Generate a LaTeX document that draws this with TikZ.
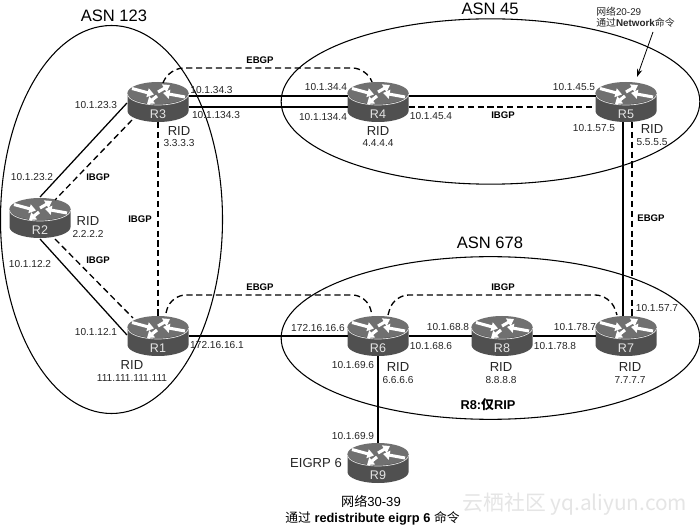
\documentclass[tikz,border=0pt]{standalone}
\usepackage{fontspec}
\setmainfont{Liberation Sans}
\newfontfamily\cjk{Noto Sans CJK SC}
\usetikzlibrary{calc,arrows.meta,shapes.geometric}
\definecolor{routertop}{HTML}{707070}
\definecolor{routerbody}{HTML}{505050}
\definecolor{routerrim}{HTML}{E4E4E4}
\definecolor{inktext}{HTML}{262626}
\tikzset{
  x=0.75pt,y=-0.75pt,
  asnarea/.style={ellipse,draw=black,line width=0.8pt,inner sep=0pt,outer sep=0pt},
  routerbox/.style={rectangle,inner sep=0pt,outer sep=0pt,minimum width=45.75pt,minimum height=30pt},
  routertag/.style={text=routerrim,font=\fontsize{9.4}{9.4}\selectfont,inner sep=0pt},
  flow/.style={white,line width=2.3pt,-{Triangle[width=6.6pt,length=5pt]}},
  solidlink/.style={draw=black,line width=0.95pt},
  bgplink/.style={draw=black,line width=1pt,dash pattern=on 4.6pt off 2.8pt},
  curvedlink/.style={bgplink,rounded corners=11pt},
  ip/.style={text=inktext,font=\fontsize{7.6}{8}\selectfont,inner sep=0pt},
  rid/.style={text=inktext,font=\fontsize{9.8}{10}\selectfont,inner sep=0pt},
  asn/.style={text=black,font=\fontsize{12.4}{13}\selectfont,inner sep=0pt},
  bgptag/.style={text=black,font=\bfseries\fontsize{7.2}{8}\selectfont,inner sep=0pt},
  note/.style={text=inktext,font=\fontsize{7.4}{9}\selectfont,inner sep=0pt},
  bignote/.style={text=black,font=\fontsize{9.8}{11}\selectfont,inner sep=0pt},
}
% Router icon: named box, barrel body, lit top face and four white traffic arrows
\newcommand{\routericon}[3]{%
  \node[routerbox] (#1) at (#2,#3) {};
  \begin{scope}[shift={(#2,#3)}]
    \fill[routerbody] (-30.5,-9) -- (-30.5,9) arc[start angle=180,end angle=360,x radius=22.9pt,y radius=8.25pt] -- (30.5,-9) -- cycle;
    \fill[routertop] (0,-9) ellipse [x radius=22.9pt,y radius=8.25pt];
    \draw[routerrim,line width=0.5pt] (-30.5,-8) arc[start angle=180,end angle=360,x radius=22.9pt,y radius=8.25pt];
    \draw[flow] (-26,-13.5) -- (-4,-7.5);
    \draw[flow] (0,-10) -- (12,-17);
    \draw[flow] (-1,-6) -- (-11,2);
    \draw[flow] (27,-5) -- (5,-9);
    \node[routertag] (#1tag) at (0,12) {#1};
  \end{scope}}
\begin{document}
\begin{tikzpicture}
\useasboundingbox (0,0) rectangle (700,527);
\fill[white] (0,0) rectangle (700,527);

% Autonomous system boundaries
\node[asnarea,minimum width=166.5pt,minimum height=291pt] (asnA) at (111.5,219.5) {};
\node[asnarea,minimum width=314pt,minimum height=124pt] (asnB) at (490.5,101.5) {};
\node[asnarea,minimum width=314pt,minimum height=122pt] (asnC) at (490.5,338) {};
\node[asn] (asnAname) at (114,16) {ASN 123};
\node[asn] (asnBname) at (490,9) {ASN 45};
\node[asn] (asnCname) at (490,243) {ASN 678};

% Routers
\routericon{R3}{158}{102}
\routericon{R2}{40}{218}
\routericon{R1}{158}{336}
\routericon{R4}{378}{102}
\routericon{R5}{626}{102}
\routericon{R6}{378}{336}
\routericon{R8}{502}{336}
\routericon{R7}{626}{336}
\routericon{R9}{378}{463}

% Physical links
\draw[solidlink] ($(R3.east)+(0,-6)$) -- ($(R4.west)+(0,-6)$);
\draw[solidlink] ($(R3.east)+(0,5)$) -- ($(R4.west)+(0,5)$);
\draw[solidlink] ($(R4.east)+(0,-6)$) -- ($(R5.west)+(0,-6)$);
\draw[solidlink] ($(R3.center)+(-31,1)$) -- ($(R2.center)+(0,-21)$);
\draw[solidlink] ($(R2.center)+(0,21)$) -- ($(R1.center)+(-31,-1)$);
\draw[solidlink] (R1.east) -- (R6.west);
\draw[solidlink] (R6.east) -- (R8.west);
\draw[solidlink] (R8.east) -- (R7.west);
\draw[solidlink] ($(R5.south)+(-3,0)$) -- ($(R7.north)+(-3,0)$);
\draw[solidlink] (R6.south) -- (R9.north);

% BGP sessions
\draw[bgplink] ($(R4.east)+(0,5)$) -- ($(R5.west)+(0,5)$);
\draw[bgplink] ($(R3.center)+(-26,18)$) -- ($(R2.center)+(15,-18)$);
\draw[bgplink] ($(R2.center)+(15,21)$) -- ($(R1.center)+(-25,-18)$);
\draw[bgplink] (R3.south) -- (R1.north);
\draw[bgplink] ($(R5.south)+(6,0)$) -- ($(R7.north)+(6,0)$);
\draw[curvedlink] ($(R3.center)+(5,-19)$) -- ($(R3.center)+(11,-34)$) -- ($(R4.center)+(-11,-34)$) -- ($(R4.center)+(-6,-20)$);
\draw[curvedlink] ($(R1.center)+(8,-23)$) -- ($(R1.center)+(13,-41)$) -- ($(R6.center)+(-11,-41)$) -- ($(R6.center)+(-6,-21)$);
\draw[curvedlink] ($(R6.center)+(10,-21)$) -- ($(R6.center)+(16,-41)$) -- ($(R7.center)+(-16,-41)$) -- ($(R7.center)+(-9,-21)$);

% Interface addresses
\node[ip] (a1) at (96,105) {10.1.23.3};
\node[ip] (a2) at (211.5,90) {10.1.34.3};
\node[ip] (a3) at (216,115) {10.1.134.3};
\node[ip] (a4) at (326,87) {10.1.34.4};
\node[ip] (a5) at (323,117) {10.1.134.4};
\node[ip] (a6) at (32,177) {10.1.23.2};
\node[ip] (a7) at (30,264) {10.1.12.2};
\node[ip] (a8) at (96,332) {10.1.12.1};
\node[ip] (a9) at (217,345) {172.16.16.1};
\node[ip] (a10) at (318,328) {172.16.16.6};
\node[ip] (a11) at (353,365) {10.1.69.6};
\node[ip] (a12) at (353,436) {10.1.69.9};
\node[ip] (a13) at (574,87) {10.1.45.5};
\node[ip] (a14) at (431,116) {10.1.45.4};
\node[ip] (a15) at (594,128) {10.1.57.5};
\node[ip] (a16) at (657,308) {10.1.57.7};
\node[ip] (a17) at (448,327) {10.1.68.8};
\node[ip] (a18) at (431,346) {10.1.68.6};
\node[ip] (a19) at (575,327) {10.1.78.7};
\node[ip] (a20) at (555,346) {10.1.78.8};

% Router identifiers
\node[rid] (r3rid) at (179,131) {RID};
\node[ip] (r3val) at (179,143) {3.3.3.3};
\node[rid] (r2rid) at (88,221) {RID};
\node[ip] (r2val) at (88,234) {2.2.2.2};
\node[rid] (r1rid) at (132,365) {RID};
\node[ip] (r1val) at (132,378) {111.111.111.111};
\node[rid] (r4rid) at (378,131) {RID};
\node[ip] (r4val) at (378,143) {4.4.4.4};
\node[rid] (r5rid) at (652,129) {RID};
\node[ip] (r5val) at (652,142) {5.5.5.5};
\node[rid] (r6rid) at (398,367) {RID};
\node[ip] (r6val) at (398,380) {6.6.6.6};
\node[rid] (r8rid) at (501,367) {RID};
\node[ip] (r8val) at (501,380) {8.8.8.8};
\node[rid] (r7rid) at (630,367) {RID};
\node[ip] (r7val) at (630,380) {7.7.7.7};

% BGP session tags
\node[bgptag] (t1) at (260,60) {EBGP};
\node[bgptag] (t2) at (260,287) {EBGP};
\node[bgptag] (t3) at (651,218) {EBGP};
\node[bgptag] (t4) at (98,177) {IBGP};
\node[bgptag] (t5) at (98,260) {IBGP};
\node[bgptag] (t6) at (140,219) {IBGP};
\node[bgptag] (t7) at (503,115) {IBGP};
\node[bgptag] (t8) at (503,287) {IBGP};

% Routing notes
\node[note,anchor=west] (n1) at (596,12) {{\cjk 网络}20-29};
\node[note,anchor=west] (n2) at (596,23) {{\cjk 通过}\textbf{Network}{\cjk 命令}};
\coordinate (n2arrow) at (653,32);
\draw[black,line width=0.6pt,-{Stealth[length=6pt,width=4pt]}] (n2arrow) -- ($(R5.north)+(11,-5)$);
\node[bignote,font=\bfseries\fontsize{9.6}{11}\selectfont] (n3) at (488,405) {R8:{\cjk 仅}RIP};
\node[rid] (n4) at (316,463) {EIGRP 6};
\node[bignote] (n5) at (371,501) {{\cjk 网络}30-39};
\node[bignote,font=\bfseries\fontsize{9.6}{11}\selectfont] (n6) at (372.5,518) {{\cjk\mdseries 通过} redistribute eigrp 6 {\cjk\mdseries 命令}};
\node[text=black!10,font=\cjk\fontsize{15.6}{16}\selectfont,inner sep=0pt] (n7) at (575,504) {云栖社区 yq.aliyun.com};
\end{tikzpicture}
\end{document}
